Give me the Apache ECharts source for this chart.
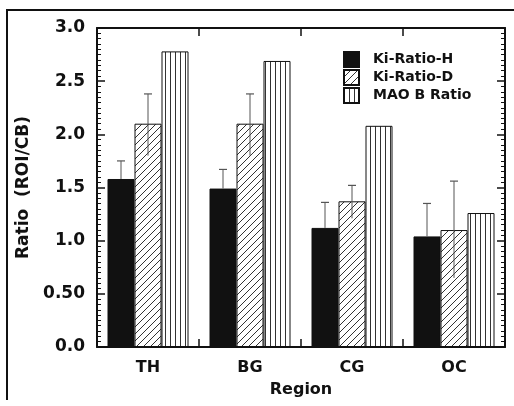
<!DOCTYPE html>
<html>
<head>
<meta charset="utf-8">
<script src="https://cdn.jsdelivr.net/npm/echarts@6/dist/echarts.min.js"></script>
<style>
  html, body { margin: 0; padding: 0; background: #fff; }
  #main { width: 514px; height: 406px; }
</style>
</head>
<body>
<div id="main"></div>
<script>
// data
var regions = ['TH', 'BG', 'CG', 'OC'];
var kiRatioH = [1.58, 1.49, 1.12, 1.04];
var kiRatioHErr = [1.75, 1.67, 1.36, 1.35];     // top of the (upper only) error bar
var kiRatioD = [2.10, 2.10, 1.37, 1.10];
var kiRatioDLow = [1.80, 1.80, 1.21, 0.65];
var kiRatioDHigh = [2.38, 2.38, 1.52, 1.56];
var maoBRatio = [2.78, 2.69, 2.08, 1.26];
var yTicks = ['0.0', '0.50', '1.0', '1.5', '2.0', '2.5', '3.0'];

var FONT = 'DejaVu Sans';

// fill patterns
function hatchPattern() {
  var c = document.createElement('canvas');
  c.width = 7; c.height = 7;
  var g = c.getContext('2d');
  g.fillStyle = '#fff'; g.fillRect(0, 0, 7, 7);
  g.strokeStyle = '#333'; g.lineWidth = 1;
  g.beginPath();
  g.moveTo(-1, 8); g.lineTo(8, -1);
  g.moveTo(-1, 1); g.lineTo(1, -1);
  g.moveTo(6, 8); g.lineTo(8, 6);
  g.stroke();
  return c;
}
function vlinePattern() {
  var c = document.createElement('canvas');
  c.width = 5; c.height = 4;
  var g = c.getContext('2d');
  g.fillStyle = '#fff'; g.fillRect(0, 0, 5, 4);
  g.fillStyle = '#333'; g.fillRect(0, 0, 1, 4);
  return c;
}

var BW = 27; // bar width px

// error bar: vertical line from value 1 to value 2, cap at the top
function errBars(offset) {
  return function (params, api) {
    var i = api.value(0);
    var lo = api.coord([i, api.value(1)]);
    var hi = api.coord([i, api.value(2)]);
    var x = lo[0] + offset;
    var cap = 4;
    return {
      type: 'group',
      children: [
        { type: 'line', shape: { x1: x, y1: lo[1], x2: x, y2: hi[1] }, style: { stroke: '#555', lineWidth: 1 } },
        { type: 'line', shape: { x1: x - cap, y1: hi[1], x2: x + cap, y2: hi[1] }, style: { stroke: '#555', lineWidth: 1.2 } }
      ]
    };
  };
}

var hErrData = regions.map(function (r, i) { return [i, kiRatioH[i], kiRatioHErr[i]]; });
var dErrData = regions.map(function (r, i) { return [i, kiRatioDLow[i], kiRatioDHigh[i]]; });

var chart = echarts.init(document.getElementById('main'));
var axisLine = { show: true, onZero: false, lineStyle: { color: '#111', width: 2 } };
// ticks point into the plot
var majorTick = { show: true, inside: true, length: 8, lineStyle: { color: '#111', width: 1.5 } };
var minorTick = { show: true, splitNumber: 10, length: 4, lineStyle: { color: '#111', width: 1 } };

chart.setOption({
  animation: false,
  backgroundColor: '#fff',
  grid: { left: 97, right: 9, top: 28, bottom: 59 },
  legend: {
    orient: 'vertical',
    left: 338, top: 46,
    itemWidth: 15, itemHeight: 15, itemGap: 1,
    icon: 'rect',
    data: ['Ki-Ratio-H', 'Ki-Ratio-D', 'MAO B Ratio'],
    textStyle: { fontFamily: FONT, fontWeight: 'bold', fontSize: 14, color: '#111', padding: [0, 0, 0, 9] }
  },
  xAxis: [{
    type: 'category',
    data: regions,
    axisLine: axisLine,
    axisTick: majorTick,
    axisLabel: { fontFamily: FONT, fontWeight: 'bold', fontSize: 16, color: '#111', margin: 13 },
    name: 'Region',
    nameLocation: 'middle',
    nameGap: 35,
    nameTextStyle: { fontFamily: FONT, fontWeight: 'bold', fontSize: 16, color: '#111' }
  }, {
    type: 'category',
    position: 'top',
    data: regions,
    axisLine: axisLine,
    axisTick: majorTick,
    axisLabel: { show: false }
  }],
  yAxis: [{
    type: 'value',
    min: 0, max: 3, interval: 0.5,
    axisLine: axisLine,
    axisTick: majorTick,
    minorTick: minorTick,
    splitLine: { show: false },
    axisLabel: {
      fontFamily: FONT, fontWeight: 'bold', fontSize: 17, color: '#111', margin: 12,
      formatter: function (v) { return yTicks[Math.round(v * 2)]; }
    },
    name: 'Ratio  (ROI/CB)',
    nameLocation: 'middle',
    nameGap: 60,
    nameTextStyle: { fontFamily: FONT, fontWeight: 'bold', fontSize: 17, color: '#111' }
  }, {
    type: 'value',
    position: 'right',
    min: 0, max: 3, interval: 0.5,
    axisLine: axisLine,
    axisTick: majorTick,
    minorTick: minorTick,
    splitLine: { show: false },
    axisLabel: { show: false }
  }],
  series: [{
    name: 'Ki-Ratio-H',
    type: 'bar',
    barWidth: BW,
    barGap: '0%',
    data: kiRatioH,
    itemStyle: { color: '#111', borderColor: '#111', borderWidth: 1 },
    z: 2
  }, {
    name: 'Ki-Ratio-D',
    type: 'bar',
    barWidth: BW,
    barGap: '0%',
    data: kiRatioD,
    itemStyle: { color: { image: hatchPattern(), repeat: 'repeat' }, borderColor: '#111', borderWidth: 1 },
    z: 2
  }, {
    name: 'MAO B Ratio',
    type: 'bar',
    barWidth: BW,
    barGap: '0%',
    data: maoBRatio,
    itemStyle: { color: { image: vlinePattern(), repeat: 'repeat' }, borderColor: '#111', borderWidth: 1 },
    z: 2
  }, {
    type: 'custom',
    renderItem: errBars(-BW),
    data: hErrData,
    encode: { x: 0, y: [1, 2] },
    z: 3
  }, {
    type: 'custom',
    renderItem: errBars(0),
    data: dErrData,
    encode: { x: 0, y: [1, 2] },
    z: 3
  }],
  graphic: [
    { type: 'line', shape: { x1: 6, y1: 10, x2: 514, y2: 10 }, style: { stroke: '#111', lineWidth: 2 } },
    { type: 'line', shape: { x1: 7, y1: 10, x2: 7, y2: 400 }, style: { stroke: '#111', lineWidth: 2 } }
  ]
});
</script>
</body>
</html>
